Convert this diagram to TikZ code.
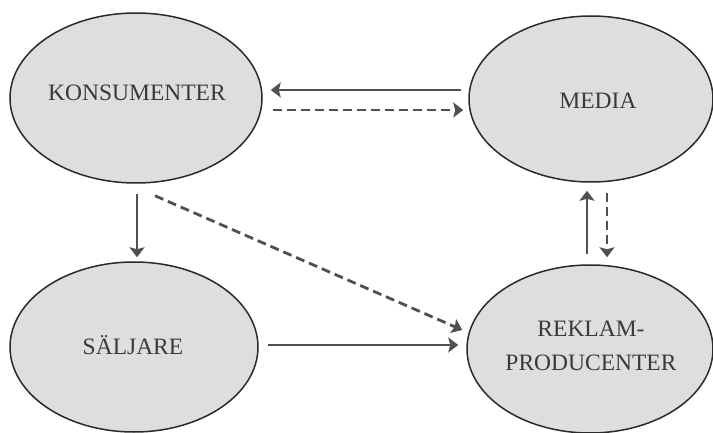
\documentclass[tikz,border=0pt]{standalone}
\usepackage{fontspec}
\setmainfont{Liberation Serif}
\usetikzlibrary{shapes.geometric,arrows.meta}
\definecolor{blobfill}{HTML}{DEDEDE}
\definecolor{blobline}{HTML}{2A2A2A}
\definecolor{arrcol}{HTML}{505050}
\definecolor{txtcol}{HTML}{3A3A3A}
\tikzset{
  blob/.style={ellipse, draw=blobline, fill=blobfill, line width=1.5pt, inner sep=0pt},
  lbl/.style={text=txtcol, font=\fontsize{23.5}{34}\selectfont, align=center, inner sep=0pt},
  solidarr/.style={draw=arrcol, line width=2.8pt, -{Stealth[length=10pt,width=15pt,inset=2pt]}},
  dasharr/.style={solidarr, dash pattern=on 9pt off 5pt},
}
\begin{document}
\begin{tikzpicture}[x=1pt,y=-1pt]
\useasboundingbox[fill=white] (0,0) rectangle (713,433);
\node[blob, minimum width=252pt, minimum height=170pt] (kon) at (136,98) {};
\node[blob, minimum width=244pt, minimum height=166pt] (med) at (591,99) {};
\node[blob, minimum width=248pt, minimum height=170pt] (sal) at (134,347) {};
\node[blob, minimum width=246pt, minimum height=168pt] (rek) at (590,349) {};
\node[lbl] (konT) at (137,93) {KONSUMENTER};
\node[lbl] (medT) at (598,101) {MEDIA};
\node[lbl] (salT) at (133,345) {SÄLJARE};
\node[lbl] (rekT) at (591,346) {REKLAM-\\PRODUCENTER};
% top horizontal pair
\draw[solidarr, shorten <=7pt, shorten >=8pt] ([yshift=9]med.west) -- ([yshift=8]kon.east);
\draw[dasharr, shorten <=10pt, shorten >=5pt] ([yshift=-12]kon.east) -- ([yshift=-11]med.west);
% konsumenter -> saljare
\draw[solidarr, shorten <=10pt, shorten >=4pt] ([xshift=1]kon.south) -- ([xshift=3]sal.north);
% diagonal dashed
\draw[dasharr] ([shift={(19,12)}]kon.south) -- ([shift={(-4,-19)}]rek.west);
% saljare -> reklam
\draw[solidarr, shorten <=9pt, shorten >=8pt] ([yshift=2]sal.east) -- ([yshift=4]rek.west);
% reklam <-> media
\draw[solidarr, shorten <=10pt, shorten >=8pt] ([xshift=-3]rek.north) -- ([xshift=-4]med.south);
\draw[dasharr, shorten <=10pt, shorten >=7pt] ([xshift=16]med.south) -- ([xshift=17]rek.north);
\end{tikzpicture}
\end{document}
